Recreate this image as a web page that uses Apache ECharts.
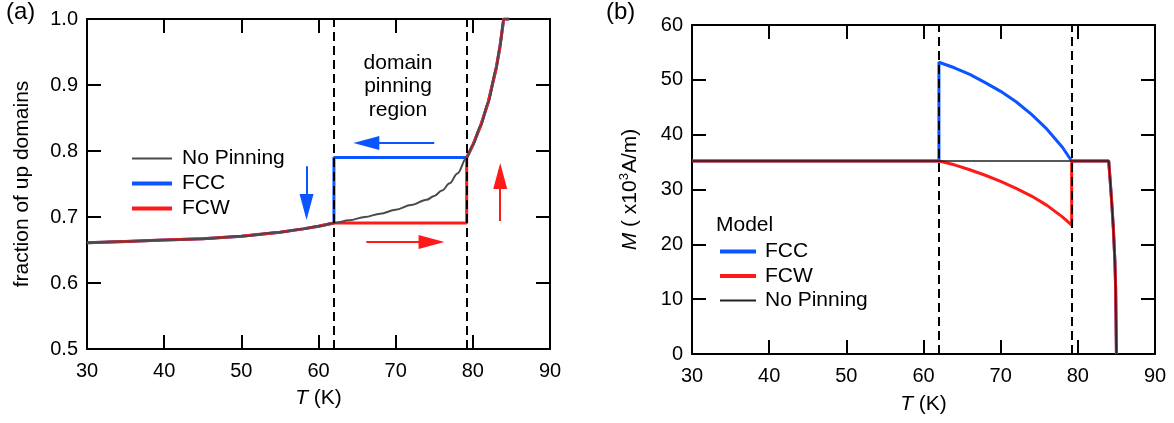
<!DOCTYPE html>
<html>
<head>
<meta charset="utf-8">
<script src="https://cdn.jsdelivr.net/npm/echarts@6/dist/echarts.min.js"></script>
<style>
  html, body { margin: 0; padding: 0; background: #fff; }
  #chart { width: 1174px; height: 423px; }
</style>
</head>
<body>
<div id="chart"></div>
<script>
// (a) fraction of up domains, no pinning curve
const curveT = [30, 35, 40, 45, 50, 55, 58, 60, 62, 64, 66, 68, 70, 72, 74, 75, 76, 77, 78, 79.2, 80, 81, 82, 83, 83.5, 84, 84.7];
const curveF = [0.661, 0.663, 0.665, 0.667, 0.671, 0.677, 0.682, 0.686, 0.691, 0.695, 0.700, 0.705, 0.711, 0.718, 0.726, 0.732, 0.740, 0.751, 0.766, 0.790, 0.809, 0.838, 0.874, 0.924, 0.957, 1.0, 1.0];
// (a) pinning region segments
const fccT = [62, 62, 79.2];
const fccF = [0.691, 0.790, 0.790];
const fcwT = [62, 79.2, 79.2];
const fcwF = [0.691, 0.691, 0.790];

// (b) magnetization, no pinning
const mT = [30, 84.0, 84.2, 84.4, 84.6, 84.8, 84.9, 85.0];
const mNo = [35.2, 35.2, 31.5, 27.5, 23, 17, 12, 0];
// (b) pinning region curves
const fccMT = [62, 62, 63, 64, 66, 68, 70, 72, 74, 76, 78, 79.2];
const fccM = [35.2, 53.2, 52.7, 52.2, 51.0, 49.5, 47.9, 46.0, 43.7, 41.0, 37.7, 35.2];
const fcwMT = [62, 64, 66, 68, 70, 72, 74, 76, 78, 79.2, 79.2];
const fcwM = [35.2, 34.5, 33.6, 32.6, 31.5, 30.2, 28.8, 27.1, 25.0, 23.5, 35.2];

// pinning region bounds
const tLow = 62;
const tHigh = 79.2;

const FONT = '"Liberation Sans", Arial, Helvetica, sans-serif';
const BLUE = '#0a55ff';
const RED = '#ff1a1a';

function zip(xs, ys) {
    return xs.map((x, i) => [x, ys[i]]);
}

// curve outside the pinning region + the pinning branch
function withBranch(t, v, bt, bv) {
    let before = [], after = [];
    t.forEach((x, i) => {
        if (x < tLow) before.push([x, v[i]]);
        if (x > tHigh) after.push([x, v[i]]);
    });
    return before.concat(zip(bt, bv)).concat(after);
}

function axisBase(extra) {
    return Object.assign({
        type: 'value',
        axisLine: { onZero: false, lineStyle: { color: '#000', width: 2 } },
        axisTick: { inside: true, length: 14, lineStyle: { color: '#000', width: 2 } },
        splitLine: { show: false },
        axisLabel: { color: '#000', fontSize: 20, fontFamily: FONT, showMinLabel: true, showMaxLabel: true },
    }, extra);
}

function mirrorAxis(extra) {
    let a = axisBase(extra);
    a.axisLabel = { show: false };
    return a;
}

let xName = {
    name: '{i|T} (K)',
    nameLocation: 'middle',
    nameTextStyle: {
        color: '#000', fontSize: 21, fontFamily: FONT,
        rich: { i: { fontStyle: 'italic', fontSize: 21, fontFamily: FONT, color: '#000' } }
    }
};

// legend entries draw only a line, no symbol
function legendItem(name, color, width) {
    return { name: name, lineStyle: { color: color, width: width }, itemStyle: { opacity: 0 } };
}

let chart = echarts.init(document.getElementById('chart'));

let option = {
    animation: false,
    textStyle: { fontFamily: FONT },
    grid: [
        { left: 87, top: 19, width: 463, height: 330 },
        { left: 692, top: 25, width: 463, height: 329 }
    ],
    xAxis: [
        axisBase(Object.assign({ gridIndex: 0, min: 30, max: 90, interval: 10, position: 'bottom', nameGap: 39 }, xName, { axisLabel: { color: '#000', fontSize: 20, fontFamily: FONT, margin: 12 } })),
        mirrorAxis({ gridIndex: 0, min: 30, max: 90, interval: 10, position: 'top' }),
        axisBase(Object.assign({ gridIndex: 1, min: 30, max: 90, interval: 10, position: 'bottom', nameGap: 40 }, xName, { axisLabel: { color: '#000', fontSize: 20, fontFamily: FONT, margin: 12 } })),
        mirrorAxis({ gridIndex: 1, min: 30, max: 90, interval: 10, position: 'top' })
    ],
    yAxis: [
        axisBase({
            gridIndex: 0, min: 0.5, max: 1.0, interval: 0.1, position: 'left',
            name: 'fraction of up domains', nameLocation: 'middle', nameGap: 54,
            nameTextStyle: { color: '#000', fontSize: 21, fontFamily: FONT },
            axisLabel: { color: '#000', fontSize: 20, fontFamily: FONT, margin: 9, formatter: v => v.toFixed(1) }
        }),
        mirrorAxis({ gridIndex: 0, min: 0.5, max: 1.0, interval: 0.1, position: 'right' }),
        axisBase({
            gridIndex: 1, min: 0, max: 60, interval: 10, position: 'left',
            name: '{i|M} ( x10{s|3}A/m)', nameLocation: 'middle', nameGap: 50,
            nameTextStyle: {
                color: '#000', fontSize: 21, fontFamily: FONT,
                rich: {
                    i: { fontStyle: 'italic', fontSize: 21, fontFamily: FONT, color: '#000' },
                    s: { fontSize: 13, fontFamily: FONT, color: '#000', padding: [0, 0, 11, 0] }
                }
            },
            axisLabel: { color: '#000', fontSize: 20, fontFamily: FONT, margin: 9 }
        }),
        mirrorAxis({ gridIndex: 1, min: 0, max: 60, interval: 10, position: 'right' })
    ],
    legend: [
        {
            orient: 'vertical', left: 130, top: 148, padding: 0,
            itemWidth: 40, itemHeight: 20, itemGap: 4,
            textStyle: { color: '#000', fontSize: 21, fontFamily: FONT, padding: [0, 0, 0, 5] },
            data: [
                legendItem('No Pinning', '#4a4a4a', 2),
                legendItem('FCC', BLUE, 4),
                legendItem('FCW', RED, 4)
            ]
        },
        {
            orient: 'vertical', left: 718, top: 241, padding: 0,
            itemWidth: 36, itemHeight: 20, itemGap: 3.5,
            textStyle: { color: '#000', fontSize: 21, fontFamily: FONT, padding: [0, 0, 0, 4] },
            data: [
                legendItem('FCC', BLUE, 4),
                legendItem('FCW', RED, 4),
                legendItem('No Pinning', '#222', 2)
            ]
        }
    ],
    graphic: [
        { type: 'text', left: 6, top: 0, style: { text: '(a)', font: '24px ' + FONT, fill: '#000' } },
        { type: 'text', left: 606, top: 0, style: { text: '(b)', font: '24px ' + FONT, fill: '#000' } },
        { type: 'text', x: 398, y: 51, style: { text: 'domain\npinning\nregion', font: '21px ' + FONT, fill: '#000', align: 'center', lineHeight: 23.5 } },
        { type: 'text', left: 716, top: 215, style: { text: 'Model', font: '21px ' + FONT, fill: '#000' } }
    ],
    series: [
        // ---- panel (a)
        {
            name: 'FCC', type: 'line', xAxisIndex: 0, yAxisIndex: 0, symbol: 'none',
            lineStyle: { color: BLUE, width: 3 }, itemStyle: { color: BLUE },
            data: withBranch(curveT, curveF, fccT, fccF)
        },
        {
            name: 'FCW', type: 'line', xAxisIndex: 0, yAxisIndex: 0, symbol: 'none',
            lineStyle: { color: RED, width: 3 }, itemStyle: { color: RED },
            data: withBranch(curveT, curveF, fcwT, fcwF)
        },
        {
            name: 'No Pinning', type: 'line', xAxisIndex: 0, yAxisIndex: 0, symbol: 'none',
            smooth: 0.35, smoothMonotone: 'x',
            lineStyle: { color: '#4a4a4a', width: 2 }, itemStyle: { color: '#4a4a4a' },
            data: zip(curveT, curveF)
        },
        {
            name: 'guides-a', type: 'line', xAxisIndex: 0, yAxisIndex: 0, symbol: 'none', z: 5,
            data: [],
            markLine: {
                silent: true, animation: false, symbol: 'none',
                label: { show: false },
                lineStyle: { color: '#000', width: 2, type: [9, 5] },
                data: [
                    { xAxis: tLow },
                    { xAxis: tHigh },
                    // arrows
                    [{ coord: [75.0, 0.812], symbol: 'none', lineStyle: { color: BLUE, width: 2, type: 'solid' } },
                     { coord: [66.2, 0.812], symbol: 'triangle', symbolSize: [14, 26] }],
                    [{ coord: [58.45, 0.777], symbol: 'none', lineStyle: { color: BLUE, width: 2, type: 'solid' } },
                     { coord: [58.45, 0.715], symbol: 'triangle', symbolSize: [14, 26] }],
                    [{ coord: [83.55, 0.694], symbol: 'none', lineStyle: { color: RED, width: 2, type: 'solid' } },
                     { coord: [83.55, 0.762], symbol: 'triangle', symbolSize: [14, 26] }],
                    [{ coord: [66.2, 0.662], symbol: 'none', lineStyle: { color: RED, width: 2, type: 'solid' } },
                     { coord: [74.65, 0.662], symbol: 'triangle', symbolSize: [14, 26] }]
                ]
            }
        },
        // ---- panel (b)
        {
            name: 'FCC', type: 'line', xAxisIndex: 2, yAxisIndex: 2, symbol: 'none',
            lineStyle: { color: BLUE, width: 3 }, itemStyle: { color: BLUE },
            data: withBranch(mT, mNo, fccMT, fccM)
        },
        {
            name: 'FCW', type: 'line', xAxisIndex: 2, yAxisIndex: 2, symbol: 'none',
            lineStyle: { color: RED, width: 3 }, itemStyle: { color: RED },
            data: withBranch(mT, mNo, fcwMT, fcwM)
        },
        {
            name: 'No Pinning', type: 'line', xAxisIndex: 2, yAxisIndex: 2, symbol: 'none',
            lineStyle: { color: '#222', width: 1.5 }, itemStyle: { color: '#222' },
            data: zip(mT, mNo)
        },
        {
            name: 'guides-b', type: 'line', xAxisIndex: 2, yAxisIndex: 2, symbol: 'none', z: 5,
            data: [],
            markLine: {
                silent: true, animation: false, symbol: 'none',
                label: { show: false },
                lineStyle: { color: '#000', width: 2, type: [9, 5] },
                data: [{ xAxis: tLow }, { xAxis: tHigh }]
            }
        }
    ]
};

chart.setOption(option);
</script>
</body>
</html>
